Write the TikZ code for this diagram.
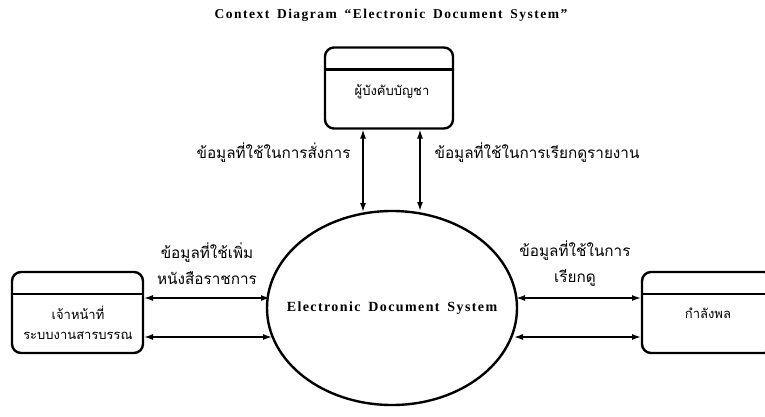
\documentclass[tikz,border=0pt]{standalone}
\usepackage{fontspec}
\setmainfont{Liberation Serif}
\newfontfamily\thaifont[Script=Thai]{Loma}
\newfontfamily\titlefont[LetterSpace=11,WordSpace=1.6]{Liberation Serif}
\newfontfamily\procfont[LetterSpace=10,WordSpace=1.6]{Liberation Serif}
\usetikzlibrary{shapes.geometric,arrows.meta}

\tikzset{
  entity/.style={draw, line width=2.4pt, rounded corners=9pt, minimum width=131pt, minimum height=81pt},
  flow/.style={{Latex[length=9pt,width=6pt]}-{Latex[length=9pt,width=6pt]}, line width=1.5pt},
  flowlabel/.style={font=\thaifont\fontsize{15.3}{26}\selectfont, align=center},
  boxtext/.style={font=\thaifont\fontsize{13}{20}\selectfont, align=center}
}

\begin{document}
\begin{tikzpicture}[x=1pt,y=-1pt]
  \useasboundingbox (0,0) rectangle (765,416);
  \clip (0,0) rectangle (765,416);

  % Title
  \node[font=\titlefont\bfseries\fontsize{13.5}{15}\selectfont] (title) at (391,15) {Context Diagram “Electronic Document System”};

  % Process
  \node[draw, ellipse, line width=2.4pt, minimum width=250pt, minimum height=194pt] (eds) at (392,308) {};
  \node[font=\procfont\bfseries\fontsize{14}{16}\selectfont] (edstext) at (eds.center) {Electronic Document System};

  % External entities
  \node[entity, minimum width=128pt] (chief) at (389,88) {};
  \draw[line width=2.4pt] ([yshift=-23pt]chief.north west) -- ([yshift=-23pt]chief.north east);
  \node[boxtext] (chieftext) at (392,92) {ผู้บังคับบัญชา};

  \node[entity] (clerk) at (77.5,312.5) {};
  \draw[line width=2.4pt] ([yshift=-23pt]clerk.north west) -- ([yshift=-23pt]clerk.north east);
  \node[boxtext] (clerktext) at (78,323) {เจ้าหน้าที่\\ระบบงานสารบรรณ};

  \node[entity] (staff) at (707.5,312.5) {};
  \draw[line width=2.4pt] ([yshift=-23pt]staff.north west) -- ([yshift=-23pt]staff.north east);
  \node[boxtext] (stafftext) at (708,313) {กำลังพล};

  % Connector ends
  \coordinate (c1) at (363,129.5);
  \coordinate (c2) at (420,129.5);
  \coordinate (e1) at (363,212);
  \coordinate (e2) at (420,211);
  \coordinate (l1) at (144,298);
  \coordinate (l2) at (144,337);
  \coordinate (el1) at (270,298);
  \coordinate (el2) at (272,337);
  \coordinate (r1) at (641,298);
  \coordinate (r2) at (641,337);
  \coordinate (er1) at (516,298);
  \coordinate (er2) at (514,337);

  % Data flows
  \draw[flow] (c1) -- (e1);
  \draw[flow] (c2) -- (e2);
  \draw[flow] (l1) -- (el1);
  \draw[flow] (l2) -- (el2);
  \draw[flow] (er1) -- (r1);
  \draw[flow] (er2) -- (r2);

  % Flow labels
  \node[flowlabel, anchor=east] (lbcmd) at (354,153) {ข้อมูลที่ใช้ในการสั่งการ};
  \node[flowlabel, anchor=west] (lbrep) at (431,153) {ข้อมูลที่ใช้ในการเรียกดูรายงาน};
  \node[flowlabel] (lbadd) at (207,264) {ข้อมูลที่ใช้เพิ่ม\\หนังสือราชการ};
  \node[flowlabel] (lbview) at (575,264) {ข้อมูลที่ใช้ในการ\\เรียกดู};
\end{tikzpicture}
\end{document}
